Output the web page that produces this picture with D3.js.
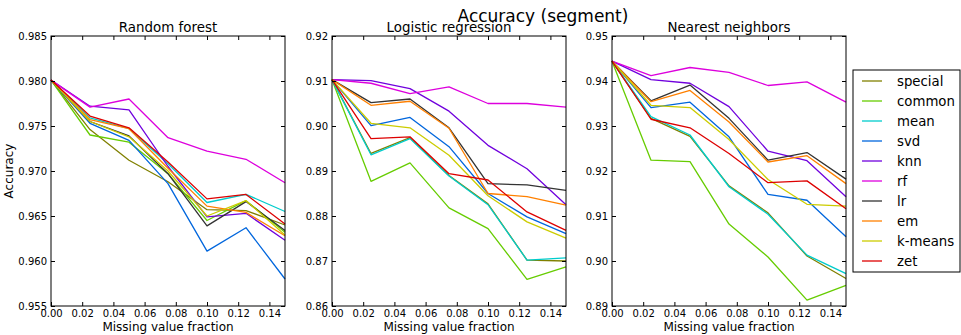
<!DOCTYPE html>
<html><head><meta charset="utf-8">
<script src="https://cdn.jsdelivr.net/npm/d3@7"></script>
<style>body{margin:0;background:#fff}svg{font-family:"DejaVu Sans",sans-serif}</style>
</head><body><svg id="c" width="961" height="335"></svg>
<script>
const fractions = [0, 0.025, 0.05, 0.075, 0.1, 0.125, 0.15];
const methods = ["special","common","mean","svd","knn","rf","lr","em","k-means","zet"];
const colors = ["#808000","#66cc00","#00cccc","#0066dd","#7000dd","#dd00dd","#333333","#ff8000","#cccc00","#dd0000"];
const xTicks = [0,0.02,0.04,0.06,0.08,0.10,0.12,0.14];

const rfVals = {
  special:[0.9801,0.9746,0.9712,0.9688,0.9657,0.9656,0.9640],
  common:[0.9801,0.9740,0.9732,0.9697,0.9645,0.9667,0.9632],
  mean:[0.9801,0.9759,0.9747,0.9708,0.9665,0.9674,0.9655],
  svd:[0.9801,0.9753,0.9734,0.9686,0.9611,0.9637,0.9580],
  knn:[0.9801,0.9772,0.9768,0.9705,0.9649,0.9653,0.9623],
  rf:[0.9801,0.9771,0.9780,0.9737,0.9722,0.9713,0.9687],
  lr:[0.9801,0.9755,0.9739,0.9697,0.9639,0.9666,0.9634],
  em:[0.9801,0.9757,0.9747,0.9703,0.9661,0.9654,0.9628],
  "k-means":[0.9801,0.9755,0.9738,0.9700,0.9650,0.9667,0.9629],
  zet:[0.9801,0.9761,0.9748,0.9710,0.9669,0.9674,0.9641]
};
const lrVals = {
  special:[0.9103,0.8939,0.8974,0.8890,0.8827,0.8702,0.8700],
  common:[0.9103,0.8877,0.8918,0.8818,0.8772,0.8659,0.8687],
  mean:[0.9103,0.8936,0.8972,0.8889,0.8825,0.8702,0.8707],
  svd:[0.9103,0.9001,0.9019,0.8954,0.8850,0.8798,0.8761],
  knn:[0.9103,0.9101,0.9083,0.9033,0.8957,0.8905,0.8825],
  rf:[0.9103,0.9095,0.9072,0.9087,0.9050,0.9050,0.9042],
  lr:[0.9103,0.9052,0.9060,0.8996,0.8872,0.8869,0.8857],
  em:[0.9103,0.9046,0.9055,0.8995,0.8850,0.8843,0.8824],
  "k-means":[0.9103,0.9006,0.8996,0.8935,0.8845,0.8787,0.8751],
  zet:[0.9103,0.8972,0.8976,0.8894,0.8880,0.8809,0.8768]
};
const nnVals = {
  special:[0.9444,0.9317,0.9277,0.9167,0.9107,0.9011,0.8961],
  common:[0.9444,0.9224,0.9221,0.9082,0.9009,0.8913,0.8946],
  mean:[0.9444,0.9321,0.9280,0.9165,0.9104,0.9013,0.8972],
  svd:[0.9444,0.9341,0.9353,0.9276,0.9148,0.9135,0.9054],
  knn:[0.9444,0.9403,0.9395,0.9343,0.9244,0.9223,0.9143],
  rf:[0.9444,0.9412,0.9430,0.9419,0.9390,0.9398,0.9353],
  lr:[0.9444,0.9356,0.9391,0.9317,0.9224,0.9241,0.9182],
  em:[0.9444,0.9354,0.9379,0.9309,0.9220,0.9234,0.9172],
  "k-means":[0.9444,0.9346,0.9341,0.9270,0.9181,0.9126,0.9122],
  zet:[0.9444,0.9315,0.9296,0.9239,0.9174,0.9178,0.9116]
};
const rfTicks = [0.955,0.960,0.965,0.970,0.975,0.980,0.985];
const lrTicks = [0.86,0.87,0.88,0.89,0.90,0.91,0.92];
const nnTicks = [0.89,0.90,0.91,0.92,0.93,0.94,0.95];

const panels = [
  {title:"Random forest", vals:rfVals, ticks:rfTicks, fmt:d3.format(".3f"), left:51, right:285, ylabel:true},
  {title:"Logistic regression", vals:lrVals, ticks:lrTicks, fmt:d3.format(".2f"), left:332, right:566},
  {title:"Nearest neighbors", vals:nnVals, ticks:nnTicks, fmt:d3.format(".2f"), left:612, right:846}
];
const topY = 36, bottomY = 306, tickLen = 4;
const svg = d3.select("#c");

svg.append("text").attr("x",543).attr("y",22).attr("text-anchor","middle")
  .attr("font-size",17).text("Accuracy (segment)");

panels.forEach(p => {
  const x = d3.scaleLinear().domain([0,0.15]).range([p.left,p.right]);
  const y = d3.scaleLinear().domain([p.ticks[0], p.ticks[p.ticks.length-1]]).range([bottomY,topY]);
  const g = svg.append("g");
  const line = d3.line().x((d,i)=>x(fractions[i])).y(d=>y(d));
  methods.forEach((m,k)=>{
    g.append("path").datum(p.vals[m]).attr("d",line).attr("fill","none")
      .attr("stroke",colors[k]).attr("stroke-width",1.3).attr("stroke-linejoin","round");
  });
  const axB = d3.axisBottom(x).tickValues(xTicks).tickFormat(d3.format(".2f")).tickSizeInner(-tickLen).tickSizeOuter(0).tickPadding(4);
  const axT = d3.axisTop(x).tickValues(xTicks).tickFormat("").tickSizeInner(-tickLen).tickSizeOuter(0);
  const axL = d3.axisLeft(y).tickValues(p.ticks).tickFormat(p.fmt).tickSizeInner(-tickLen).tickSizeOuter(0).tickPadding(4);
  const axR = d3.axisRight(y).tickValues(p.ticks).tickFormat("").tickSizeInner(-tickLen).tickSizeOuter(0);
  const styl = s => { s.select(".domain").remove(); s.selectAll("text").attr("font-size",10).attr("font-family","DejaVu Sans").attr("fill","#000"); s.selectAll("line").attr("stroke","#000"); };
  svg.append("g").attr("transform",`translate(0,${bottomY})`).call(axB).call(styl);
  svg.append("g").attr("transform",`translate(0,${topY})`).call(axT).call(styl);
  svg.append("g").attr("transform",`translate(${p.left},0)`).call(axL).call(styl);
  svg.append("g").attr("transform",`translate(${p.right},0)`).call(axR).call(styl);
  svg.append("rect").attr("x",p.left).attr("y",topY).attr("width",p.right-p.left).attr("height",bottomY-topY)
    .attr("fill","none").attr("stroke","#000").attr("stroke-width",1);
  svg.append("text").attr("x",(p.left+p.right)/2).attr("y",32).attr("text-anchor","middle")
    .attr("font-size",13.4).text(p.title);
  svg.append("text").attr("x",(p.left+p.right)/2).attr("y",331).attr("text-anchor","middle")
    .attr("font-size",12).text("Missing value fraction");
  if (p.ylabel) {
    svg.append("text").attr("transform",`translate(13,${(topY+bottomY)/2}) rotate(-90)`)
      .attr("text-anchor","middle").attr("font-size",12).text("Accuracy");
  }
});

const lg = svg.append("g");
lg.append("rect").attr("x",853).attr("y",70).attr("width",107).attr("height",202)
  .attr("fill","#fff").attr("stroke","#000").attr("stroke-width",1);
methods.forEach((m,k)=>{
  const yy = 81 + k*20;
  lg.append("line").attr("x1",862).attr("x2",882).attr("y1",yy).attr("y2",yy)
    .attr("stroke",colors[k]).attr("stroke-width",1.3);
  lg.append("text").attr("x",897).attr("y",yy).attr("dy","0.35em").attr("font-size",13.3).text(m);
});
</script></body></html>
